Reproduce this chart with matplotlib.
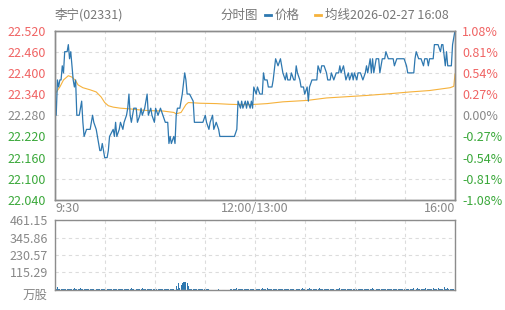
import matplotlib
matplotlib.use("Agg")
import matplotlib.pyplot as plt
import matplotlib.transforms as mtransforms
import numpy as np

plt.rcParams['font.family'] = ['Noto Sans CJK SC', 'DejaVu Sans']

BLUE = '#2e78b0'
ORANGE = '#f6b23c'
RED = '#f06464'
GREEN = '#3aa83a'
GREY = '#888888'

title = "李宁(02331)"
stamp = "均线2026-02-27 16:08"
prev_close = 22.28

# minute index (0 = 9:30, 330 = 16:00) and price
price_min = [0, 1, 2, 3, 4, 5, 6, 7, 8, 10,
             11, 12, 13, 14, 15, 16, 17, 18, 20, 22,
             23, 24, 26, 29, 31, 32, 34, 37, 38, 39,
             41, 43, 44, 45, 48, 49, 50, 51, 53, 54,
             56, 57, 59, 60, 61, 62, 63, 65, 67, 68,
             70, 71, 72, 74, 76, 77, 79, 80, 82, 83,
             85, 87, 89, 91, 93, 94, 95, 96, 98, 99,
             100, 101, 103, 104, 105, 107, 108, 109, 111, 114,
             115, 122, 124, 125, 127, 128, 130, 131, 133, 135,
             136, 148, 150, 151, 153, 154, 155, 157, 158, 159,
             161, 162, 163, 164, 166, 167, 169, 171, 172, 173,
             175, 176, 179, 180, 182, 184, 186, 187, 188, 190,
             191, 192, 194, 195, 197, 198, 199, 200, 202, 203,
             205, 206, 208, 209, 210, 212, 216, 217, 219, 220,
             222, 224, 225, 227, 228, 230, 232, 234, 235, 236,
             238, 240, 242, 243, 245, 246, 247, 249, 250, 252,
             254, 256, 257, 258, 260, 261, 262, 263, 265, 267,
             268, 270, 272, 273, 275, 276, 279, 280, 282, 285,
             288, 290, 291, 296, 297, 298, 300, 301, 302, 304,
             305, 307, 308, 309, 312, 313, 316, 318, 319, 320,
             322, 323, 324, 327, 328, 329, 330]
price_val = [22.34, 22.28, 22.38, 22.36, 22.38, 22.38, 22.42, 22.40, 22.46, 22.46,
             22.48, 22.44, 22.46, 22.42, 22.38, 22.36, 22.38, 22.28, 22.28, 22.32,
             22.26, 22.22, 22.24, 22.24, 22.28, 22.26, 22.24, 22.18, 22.18, 22.20,
             22.16, 22.16, 22.18, 22.22, 22.24, 22.22, 22.26, 22.22, 22.24, 22.26,
             22.24, 22.26, 22.28, 22.30, 22.34, 22.28, 22.26, 22.30, 22.30, 22.26,
             22.28, 22.30, 22.28, 22.30, 22.34, 22.28, 22.30, 22.28, 22.26, 22.30,
             22.28, 22.30, 22.28, 22.26, 22.26, 22.20, 22.22, 22.20, 22.22, 22.20,
             22.28, 22.30, 22.30, 22.32, 22.34, 22.40, 22.38, 22.34, 22.34, 22.32,
             22.26, 22.26, 22.28, 22.26, 22.24, 22.26, 22.28, 22.24, 22.26, 22.24,
             22.22, 22.22, 22.24, 22.32, 22.30, 22.32, 22.30, 22.32, 22.30, 22.32,
             22.30, 22.32, 22.30, 22.36, 22.34, 22.36, 22.34, 22.34, 22.40, 22.38,
             22.38, 22.36, 22.36, 22.38, 22.44, 22.42, 22.44, 22.42, 22.40, 22.38,
             22.40, 22.38, 22.38, 22.40, 22.38, 22.38, 22.42, 22.40, 22.38, 22.36,
             22.36, 22.34, 22.36, 22.32, 22.36, 22.38, 22.38, 22.42, 22.40, 22.42,
             22.42, 22.40, 22.38, 22.38, 22.40, 22.38, 22.40, 22.40, 22.42, 22.40,
             22.42, 22.38, 22.40, 22.38, 22.40, 22.38, 22.40, 22.38, 22.40, 22.40,
             22.38, 22.40, 22.42, 22.40, 22.44, 22.40, 22.44, 22.40, 22.44, 22.44,
             22.40, 22.44, 22.44, 22.46, 22.44, 22.44, 22.44, 22.42, 22.44, 22.44,
             22.44, 22.42, 22.40, 22.40, 22.44, 22.46, 22.44, 22.44, 22.44, 22.42,
             22.44, 22.44, 22.42, 22.44, 22.44, 22.48, 22.48, 22.46, 22.48, 22.48,
             22.42, 22.46, 22.42, 22.42, 22.48, 22.50, 22.52]

# average price line
avg_min = [0, 4, 7, 11, 14, 17, 19, 23, 29, 34,
           38, 41, 44, 48, 54, 62, 70, 78, 89, 98,
           100, 104, 106, 108, 110, 120, 133, 144, 155, 161,
           175, 188, 208, 224, 243, 257, 276, 293, 309, 326,
           329, 330]
avg_val = [22.340, 22.360, 22.380, 22.392, 22.388, 22.378, 22.366, 22.358, 22.352, 22.346,
           22.332, 22.316, 22.307, 22.303, 22.300, 22.298, 22.295, 22.293, 22.292, 22.288,
           22.284, 22.288, 22.299, 22.310, 22.316, 22.314, 22.313, 22.311, 22.310, 22.310,
           22.313, 22.318, 22.322, 22.329, 22.333, 22.336, 22.341, 22.346, 22.350, 22.358,
           22.362, 22.397]

# volume per minute, 万股
volume = [
    5, 5, 18, 5, 5, 5, 5, 5, 5, 5, 5, 5, 5, 5, 5, 5, 13, 5, 5, 5, 5, 13, 5, 5, 5, 5, 5, 5, 5, 5,
    5, 5, 5, 5, 5, 5, 5, 5, 5, 5, 5, 5, 8, 5, 5, 5, 5, 5, 5, 5, 5, 5, 5, 5, 5, 5, 5, 5, 5, 5,
    5, 5, 5, 13, 5, 5, 5, 5, 5, 5, 5, 5, 13, 5, 5, 5, 5, 5, 5, 5, 5, 5, 5, 5, 5, 5, 5, 5, 5, 5,
    5, 5, 5, 5, 5, 5, 5, 5, 5, 5, 27, 5, 44, 10, 30, 44, 53, 53, 50, 44, 27, 5, 5, 5, 5, 9, 5, 5, 5, 5,
    5, 5, 5, 5, 5, 5, 5, 5, 3, 2, 3, 2, 3, 2, 3, 8, 3, 2, 3, 2, 3, 2, 3, 2, 3, 5, 5, 5, 5, 5,
    12, 5, 5, 5, 8, 5, 5, 5, 5, 5, 5, 5, 5, 5, 5, 5, 5, 5, 5, 5, 5, 12, 5, 5, 5, 12, 5, 5, 5, 5,
    5, 5, 5, 8, 5, 5, 5, 5, 5, 8, 5, 5, 5, 5, 5, 5, 5, 5, 5, 5, 5, 5, 5, 5, 10, 5, 5, 5, 5, 5,
    16, 5, 5, 5, 5, 5, 5, 5, 10, 5, 5, 5, 5, 5, 5, 5, 5, 5, 5, 5, 5, 5, 5, 5, 5, 12, 5, 5, 5, 5,
    5, 5, 5, 5, 5, 5, 5, 5, 5, 8, 5, 5, 5, 5, 5, 5, 5, 5, 5, 5, 5, 5, 16, 5, 5, 5, 5, 5, 5, 5,
    5, 5, 5, 5, 5, 5, 5, 5, 8, 5, 5, 5, 5, 5, 5, 5, 5, 5, 5, 5, 8, 5, 5, 5, 5, 5, 15, 5, 5, 15,
    5, 5, 5, 5, 5, 5, 12, 5, 5, 5, 5, 5, 10, 5, 5, 5, 10, 5, 5, 5, 5, 20, 5, 5, 16, 5, 5, 5, 5, 5,
    461.15,
]

price_ticks = [22.520, 22.460, 22.400, 22.340, 22.280, 22.220, 22.160, 22.100, 22.040]
vol_ticks = [0, 115.29, 230.57, 345.86, 461.15]
vol_labels = ['万股', '115.29', '230.57', '345.86', '461.15']
time_labels = ['9:30', '', '', '', '12:00/13:00', '', '', '', '16:00']


def tick_colour(v):
    if v > prev_close + 1e-9:
        return RED
    if v < prev_close - 1e-9:
        return GREEN
    return GREY


fig = plt.figure(figsize=(5.05, 3.1), dpi=100)
ax = fig.add_axes([55 / 505, 1 - 200 / 310, 400 / 505, 169.5 / 310])
axv = fig.add_axes([55 / 505, 1 - 290 / 310, 400 / 505, 70 / 310])

grid_kw = dict(color='#dcdcdc', linestyle=(0, (3, 3)), linewidth=0.8)
xgrid = np.linspace(0, 330, 9)

# price panel
ax.plot(price_min, price_val, color=BLUE, lw=0.9, zorder=3)
ax.plot(avg_min, avg_val, color=ORANGE, lw=0.8, zorder=2)
ax.set_xlim(0, 330)
ax.set_ylim(price_ticks[-1], price_ticks[0])
ax.set_xticks(xgrid)
ax.set_xticklabels(time_labels)
ax.set_yticks(price_ticks)
ax.set_yticklabels(['%.3f' % v for v in price_ticks])
for lab, v in zip(ax.get_yticklabels(), price_ticks):
    lab.set_color(tick_colour(v))
xl = ax.get_xticklabels()
xl[0].set_ha('left')
xl[-1].set_ha('right')
ax.tick_params(axis='x', length=0, pad=1.5, labelsize=9, labelcolor=GREY)
ax.tick_params(axis='y', length=0, pad=6.5, labelsize=9)
ax.grid(True, **grid_kw)

ax2 = ax.twinx()
pct = [(v / prev_close - 1) * 100 for v in price_ticks]
ax2.set_ylim(pct[-1], pct[0])
ax2.set_yticks(pct)
ax2.set_yticklabels(['%.2f%%' % p for p in pct])
for lab, v in zip(ax2.get_yticklabels(), price_ticks):
    lab.set_color(tick_colour(v))
ax2.tick_params(axis='y', length=0, pad=5, labelsize=9)

# volume panel
axv.bar(np.arange(len(volume)), volume, width=0.8, color=BLUE, linewidth=0)
axv.set_xlim(0, 330)
axv.set_ylim(0, vol_ticks[-1])
axv.set_xticks(xgrid)
axv.set_xticklabels([])
axv.set_yticks(vol_ticks)
axv.set_yticklabels(vol_labels)
axv.tick_params(length=0, pad=5, labelsize=9, labelcolor=GREY)
axv.grid(True, **grid_kw)
# unit label sits a little below the zero line
unit = axv.get_yticklabels()[0]
unit.set_transform(unit.get_transform() +
                   mtransforms.ScaledTranslation(0, -0.035, fig.dpi_scale_trans))

for a in (ax, ax2, axv):
    for s in a.spines.values():
        s.set_color('#8c8c8c')
        s.set_linewidth(1)

# header
ty = 1 - 15 / 310
fig.text(55 / 505, ty, title, ha='left', va='center', fontsize=9, color='#777777')
fig.text(220 / 505, ty, "分时图", ha='left', va='center', fontsize=9, color='#777777')
fig.add_artist(plt.Line2D([265 / 505, 271 / 505], [ty, ty], color=BLUE, lw=2))
fig.text(275 / 505, ty, "价格", ha='left', va='center', fontsize=9, color='#777777')
fig.add_artist(plt.Line2D([315 / 505, 321 / 505], [ty, ty], color=ORANGE, lw=2))
fig.text(325 / 505, ty, stamp, ha='left', va='center', fontsize=9, color='#777777')

fig.savefig("out.png", dpi=100)
